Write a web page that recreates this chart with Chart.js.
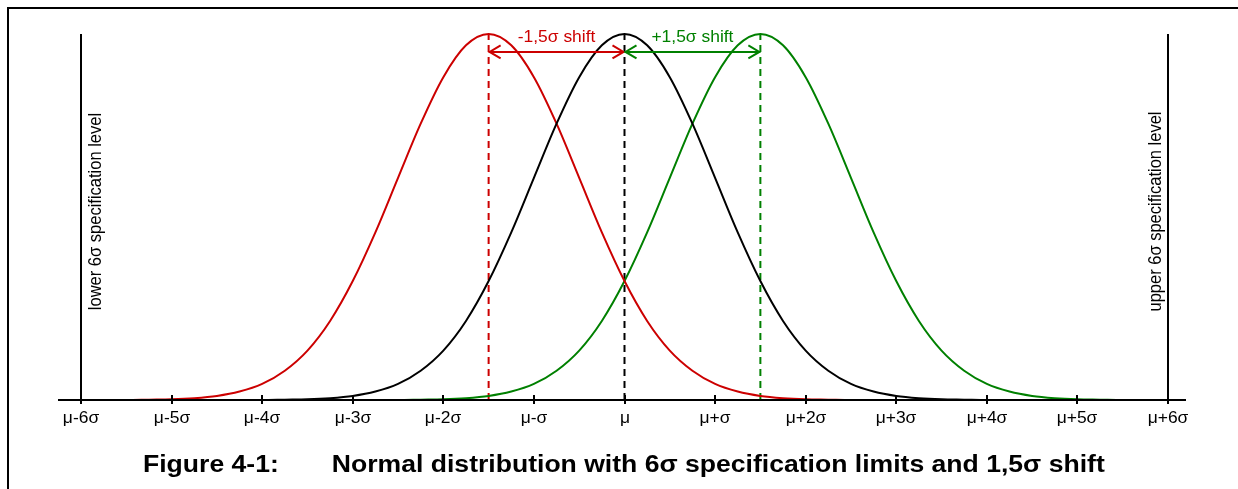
<!DOCTYPE html>
<html>
<head>
<meta charset="utf-8">
<script src="https://cdn.jsdelivr.net/npm/chart.js@4.4.1/dist/chart.umd.min.js"></script>
<style>
    html, body { margin: 0; padding: 0; background: #fff; }
    #wrap { position: relative; width: 1238px; height: 489px; overflow: hidden; }
    #frame { position: absolute; left: 7px; top: 7px; width: 1300px; height: 600px;
             border-left: 2px solid #000; border-top: 2px solid #000; }
    #chart { position: absolute; left: 0; top: 0; }
    #caption { position: absolute; left: 143px; top: 451px; white-space: nowrap;
               transform: scaleX(1.155); transform-origin: 0 0;
               font: bold 23px "Liberation Sans", Arial, sans-serif; color: #000; }
    #caption span { display: inline-block; width: 163.5px; }
</style>
</head>
<body>
<div id="wrap">
    <div id="frame"></div>
    <canvas id="chart" width="1238" height="489"></canvas>
    <div id="caption"><span>Figure 4-1:</span>Normal distribution with 6σ specification limits and 1,5σ shift</div>
</div>
<script>
// x positions in sigma units
const sigmaSteps = [-6, -5.75, -5.5, -5.25, -5, -4.75, -4.5, -4.25, -4, -3.75, -3.5, -3.25, -3, -2.75, -2.5, -2.25,
    -2, -1.75, -1.5, -1.25, -1, -0.75, -0.5, -0.25, 0, 0.25, 0.5, 0.75, 1, 1.25, 1.5, 1.75, 2, 2.25, 2.5, 2.75,
    3, 3.25, 3.5, 3.75, 4, 4.25, 4.5, 4.75, 5, 5.25, 5.5, 5.75, 6];

// curve heights relative to the peak
const centered = [0, 0, 0, 0, 0, 0, 0, 0, 0, 0.001, 0.002, 0.005, 0.011, 0.023, 0.044, 0.080,
    0.135, 0.216, 0.325, 0.458, 0.607, 0.755, 0.882, 0.969, 1, 0.969, 0.882, 0.755, 0.607, 0.458, 0.325, 0.216,
    0.135, 0.080, 0.044, 0.023, 0.011, 0.005, 0.002, 0.001, 0, 0, 0, 0, 0, 0, 0, 0, 0];
const shiftedDown = [0, 0, 0, 0.001, 0.002, 0.005, 0.011, 0.023, 0.044, 0.080, 0.135, 0.216, 0.325, 0.458, 0.607, 0.755,
    0.882, 0.969, 1, 0.969, 0.882, 0.755, 0.607, 0.458, 0.325, 0.216, 0.135, 0.080, 0.044, 0.023, 0.011, 0.005,
    0.002, 0.001, 0, 0, 0, 0, 0, 0, 0, 0, 0, 0, 0, 0, 0, 0, 0];
const shiftedUp = [0, 0, 0, 0, 0, 0, 0, 0, 0, 0, 0, 0, 0, 0, 0, 0.001,
    0.002, 0.005, 0.011, 0.023, 0.044, 0.080, 0.135, 0.216, 0.325, 0.458, 0.607, 0.755, 0.882, 0.969, 1, 0.969,
    0.882, 0.755, 0.607, 0.458, 0.325, 0.216, 0.135, 0.080, 0.044, 0.023, 0.011, 0.005, 0.002, 0.001, 0, 0, 0];

const tickLabels = ['μ-6σ', 'μ-5σ', 'μ-4σ', 'μ-3σ', 'μ-2σ', 'μ-σ', 'μ', 'μ+σ', 'μ+2σ', 'μ+3σ', 'μ+4σ', 'μ+5σ', 'μ+6σ'];
const means = [-1.5, 0, 1.5];
const specLimits = [-6, 6];
const shiftLabels = ['-1,5σ shift', '+1,5σ shift'];
const specLabels = ['lower 6σ specification level', 'upper 6σ specification level'];

const RED = '#cc0000';
const GREEN = '#008000';
const FONT = '"Liberation Sans", Arial, sans-serif';
const STRETCH = 1.09; // the original figure is a little wider than tall

const toPoints = (ys) => ys.map((y, i) => ({ x: sigmaSteps[i], y }));
const vline = (x) => [{ x, y: 0 }, { x, y: 1 }];

function curve(data, color) {
    return { data: toPoints(data), borderColor: color, borderWidth: 2, showLine: true,
             pointRadius: 0, cubicInterpolationMode: 'monotone', clip: false };
}
function dashed(x, color) {
    return { data: vline(x), borderColor: color, borderWidth: 2, borderDash: [7, 5],
             showLine: true, pointRadius: 0, clip: false };
}

function wideText(ctx, txt, px, py) {
    ctx.save();
    ctx.translate(px, py);
    ctx.scale(STRETCH, 1);
    ctx.fillText(txt, 0, 0);
    ctx.restore();
}

// axis line, crossing ticks, tick labels, shift arrows and rotated labels
const decorations = {
    id: 'decorations',
    afterDatasetsDraw(chart) {
        const { ctx, scales: { x, y } } = chart;
        const base = y.getPixelForValue(0);
        ctx.save();
        ctx.strokeStyle = '#000';
        ctx.lineWidth = 2;
        ctx.beginPath();
        ctx.moveTo(x.getPixelForValue(-6) - 23, base);
        ctx.lineTo(x.getPixelForValue(6) + 18, base);
        ctx.stroke();
        ctx.fillStyle = '#000';
        ctx.font = '16px ' + FONT;
        ctx.textAlign = 'center';
        ctx.textBaseline = 'middle';
        x.ticks.forEach((t) => {
            const px = Math.round(x.getPixelForValue(t.value));
            ctx.beginPath();
            ctx.moveTo(px, base - 5);
            ctx.lineTo(px, base + 4);
            ctx.stroke();
            wideText(ctx, tickLabels[t.value + 6], px, base + 18.5);
        });

        // shift arrows
        const ay = y.getPixelForValue(0.951);
        const arrow = (from, to, color, label) => {
            const x1 = x.getPixelForValue(from), x2 = x.getPixelForValue(to);
            ctx.strokeStyle = color;
            ctx.lineWidth = 2;
            ctx.beginPath();
            ctx.moveTo(x1, ay);
            ctx.lineTo(x2, ay);
            ctx.moveTo(x1 + 12, ay - 6.5);
            ctx.lineTo(x1 + 1, ay);
            ctx.lineTo(x1 + 12, ay + 6.5);
            ctx.moveTo(x2 - 12, ay - 6.5);
            ctx.lineTo(x2 - 1, ay);
            ctx.lineTo(x2 - 12, ay + 6.5);
            ctx.stroke();
            ctx.fillStyle = color;
            wideText(ctx, label, (x1 + x2) / 2, ay - 14);
        };
        arrow(means[0], means[1], RED, shiftLabels[0]);
        arrow(means[1], means[2], GREEN, shiftLabels[1]);

        // spec limit labels
        ctx.fillStyle = '#000';
        ctx.font = '16.5px ' + FONT;
        [[specLimits[0], 15, specLabels[0]], [specLimits[1], -12, specLabels[1]]].forEach(([v, dx, txt]) => {
            ctx.save();
            ctx.translate(x.getPixelForValue(v) + dx, y.getPixelForValue(0.515));
            ctx.rotate(-Math.PI / 2);
            ctx.scale(1, STRETCH);
            ctx.fillText(txt, 0, 0);
            ctx.restore();
        });
        ctx.restore();
    }
};

new Chart(document.getElementById('chart'), {
    type: 'scatter',
    data: {
        datasets: [
            curve(centered, '#000'),
            curve(shiftedDown, RED),
            curve(shiftedUp, GREEN),
            dashed(means[0], RED),
            dashed(means[1], '#000'),
            dashed(means[2], GREEN),
            { data: vline(specLimits[0]), borderColor: '#000', borderWidth: 2, showLine: true, pointRadius: 0, clip: false },
            { data: vline(specLimits[1]), borderColor: '#000', borderWidth: 2, showLine: true, pointRadius: 0, clip: false },
        ],
    },
    options: {
        responsive: false,
        animation: false,
        layout: { padding: { left: 81, right: 70, top: 34, bottom: 0 } },
        plugins: { legend: { display: false }, tooltip: { enabled: false } },
        scales: {
            x: {
                type: 'linear', min: -6, max: 6,
                grid: { display: false },
                border: { display: false },
                ticks: { stepSize: 1, autoSkip: false, display: false },
                afterFit: (s) => { s.height = 89; },
            },
            y: { display: false, min: 0, max: 1 },
        },
    },
    plugins: [decorations],
});
</script>
</body>
</html>
